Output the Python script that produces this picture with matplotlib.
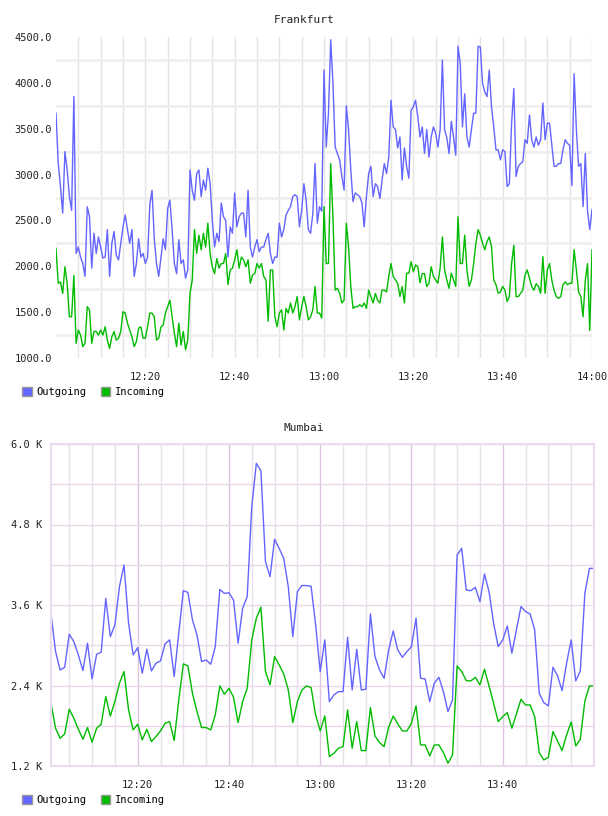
import numpy as np
import matplotlib
matplotlib.use('Agg')
import matplotlib.pyplot as plt
from matplotlib.patches import Patch

plt.rcParams['font.family'] = 'DejaVu Sans Mono'

# Frankfurt: one sample every 30 s, 12:00 -> 14:00
fra_out = [3670, 3120, 2870, 2580, 3250, 3050, 2760, 2610, 3850, 2140,
           2210, 2100, 2030, 1890, 2650, 2540, 1980, 2360, 2140, 2320,
           2210, 2090, 2100, 2400, 1890, 2250, 2380, 2120, 2070, 2250,
           2430, 2560, 2400, 2250, 2400, 1890, 2030, 2300, 2100, 2140,
           2030, 2100, 2670, 2830, 2300, 2030, 1890, 2100, 2300, 2180,
           2630, 2720, 2400, 2030, 1920, 2290, 2030, 2070, 1870, 1960,
           3050,
           2830, 2720, 3010, 3050, 2760, 2940, 2830, 3070, 2900, 2500,
           2210, 2360, 2270, 2690, 2540, 2500, 2100, 2430, 2360, 2800,
           2430, 2540, 2580, 2580, 2320, 2830, 2210, 2100, 2210, 2290,
           2160, 2210, 2210, 2290, 2360, 2140, 2030, 2100, 2100, 2470,
           2320, 2400, 2560, 2610, 2650, 2760, 2780, 2760, 2430, 2610,
           2900, 2720, 2400, 2360, 2580, 3120, 2470, 2650, 2600, 4140,
           3300, 3670, 4470, 4000, 3300, 3230, 3160, 2980, 2830, 3750,
           3490, 3050, 2705, 2800, 2780, 2760, 2690, 2430, 2760, 3010,
           3090, 2760, 2900, 2870, 2740, 2940, 3120, 3010, 3190, 3810,
           3520, 3490, 3290, 3410, 2940, 3290, 3090, 2960, 3700, 3740,
           3810, 3630, 3410, 3520, 3230, 3490, 3190, 3410, 3520, 3450,
           3300, 3490, 4250, 3490, 3400, 3230, 3580, 3410, 3210, 4400,
           4210, 3520, 3880, 3410, 3300, 3490, 3670, 3670, 4400, 4390,
           3995, 3900, 3850, 4140, 3740, 3520, 3270, 3270, 3160, 3270,
           3250, 2870, 2900, 3560, 3940, 2980, 3090, 3120, 3140, 3380,
           3340, 3650, 3380, 3300, 3410, 3320, 3380, 3780, 3380, 3560,
           3560, 3320, 3090, 3090, 3120, 3120, 3270, 3380, 3340, 3320,
           2880, 4100, 3490, 3090, 3120, 2650, 3230, 2600, 2400, 2620]
fra_in = [2196, 1815, 1830, 1705, 1995, 1815, 1450, 1450, 1900, 1160,
          1305, 1250, 1124, 1160, 1560, 1525, 1160, 1290, 1290, 1250,
          1305, 1250, 1340, 1195, 1105, 1230, 1290, 1195, 1215, 1290,
          1505, 1490, 1380, 1305, 1230, 1124, 1180, 1325, 1340, 1215,
          1215, 1340, 1490, 1490, 1450, 1195, 1215, 1340, 1360, 1490,
          1560, 1630, 1450, 1270, 1124, 1380, 1140, 1290, 1090, 1195,
          1700,
          1850, 2400, 2140, 2340, 2180, 2360, 2210, 2470, 2140, 1995,
          1920, 2085, 1980, 2030, 2030, 2140, 1800, 1960, 1980, 2070,
          2180, 1980, 2100, 2070, 1995, 2070, 1815, 1905, 1920, 2030,
          1980, 2030, 1890, 1850, 1400, 1960, 1960, 1450, 1340, 1490,
          1525, 1305, 1540, 1490, 1600, 1490, 1560, 1670, 1415, 1560,
          1670, 1560, 1415, 1450, 1525, 1780, 1490, 1490, 1435, 2650,
          2030, 2030, 3120, 2540, 1740, 1760, 1705, 1600, 1630, 2470,
          2210, 1780, 1540, 1560, 1560, 1580, 1560, 1600, 1540, 1740,
          1670, 1600, 1705, 1630, 1600, 1740, 1740, 1720, 1890, 2030,
          1890, 1850, 1815, 1670, 1780, 1600, 1925, 1925, 2050, 1940,
          2015, 1995, 1820, 1920, 1920, 1780, 1815, 1995, 1890, 1850,
          1815, 1980, 2320, 1960, 1850, 1760, 1925, 1850, 1780, 2540,
          2030, 2030, 2340, 1960, 1780, 1850, 2030, 2250, 2400, 2340,
          2250, 2180, 2270, 2320, 2210, 1850, 1800, 1705, 1720, 1780,
          1740, 1615, 1670, 2030, 2230, 1670, 1670, 1705, 1740, 1905,
          1960, 1870, 1780, 1740, 1810, 1780, 1705, 2105, 1705, 1960,
          2030, 1850, 1740, 1670, 1650, 1670, 1800, 1830, 1800, 1815,
          1815, 2180, 1960, 1720, 1670, 1450, 1850, 2030, 1300, 2180]

# Mumbai: one sample per minute, 12:01 -> 14:00
mum_out = [3467, 2906, 2632, 2672, 3164, 3055, 2856, 2622, 3030, 2498,
           2866, 2896, 3699, 3129, 3303, 3873, 4196, 3328, 2856, 2965,
           2583, 2940, 2617, 2732, 2767, 3020, 3080, 2533, 3179, 3813,
           3788, 3378, 3154, 2757, 2781, 2717, 2980, 3833, 3773, 3783,
           3674, 3030, 3552, 3724, 5066, 5712, 5602, 4246, 4022, 4579,
           4444, 4295, 3873, 3129, 3800, 3890, 3890, 3880, 3300, 2607,
           3080, 2160, 2260, 2309, 2309, 3119, 2334, 2940, 2334, 2344,
           3467, 2831, 2632, 2508, 2930, 3214, 2930, 2821, 2906, 2980,
           3403, 2508, 2498, 2160, 2434, 2523, 2309, 2011, 2185, 4345,
           4445, 3823, 3813, 3863, 3650, 4062, 3798, 3328, 2980, 3080,
           3288, 2881, 3229, 3577, 3502, 3467, 3229, 2284, 2145, 2096,
           2672, 2548, 2324, 2732, 3080, 2468, 2617, 3774, 4146, 4146]
mum_in = [2135, 1763, 1613, 1678, 2046, 1912, 1748, 1599, 1773, 1554,
          1763, 1822, 2235, 1946, 2160, 2434, 2608, 2036, 1738, 1822,
          1589, 1748, 1564, 1638, 1723, 1837, 1862, 1579, 2185, 2722,
          2692, 2284, 2011, 1773, 1773, 1738, 1961, 2394, 2270, 2359,
          2225, 1847, 2160, 2359, 3080, 3403, 3567, 2608, 2409, 2831,
          2707, 2573, 2334, 1847, 2160, 2334, 2394, 2369, 1961, 1723,
          1946, 1340, 1390, 1465, 1489, 2036, 1465, 1862, 1430, 1430,
          2071, 1648, 1549, 1489, 1778, 1946, 1827, 1723, 1723, 1837,
          2096, 1514, 1514, 1350, 1514, 1514, 1400, 1241, 1365, 2692,
          2608, 2473, 2468, 2523, 2409, 2642, 2394, 2135, 1862, 1936,
          1996, 1763, 1976, 2195, 2110, 2110, 1936, 1400, 1290, 1330,
          1713, 1574, 1430, 1663, 1857, 1499, 1599, 2170, 2394, 2394]

fra_yticks = [1000, 1500, 2000, 2500, 3000, 3500, 4000, 4500]
fra_ylabels = ['1000.0', '1500.0', '2000.0', '2500.0', '3000.0', '3500.0', '4000.0', '4500.0']
mum_yticks = [1200, 2400, 3600, 4800, 6000]
mum_ylabels = ['1.2 K', '2.4 K', '3.6 K', '4.8 K', '6.0 K']
time_ticks = [20, 40, 60, 80, 100, 120]          # minutes after 12:00
time_labels = ['12:20', '12:40', '13:00', '13:20', '13:40', '14:00']

OUT = '#6464ff'
INC = '#00bb00'
W, H = 608, 816

fig = plt.figure(figsize=(W / 100, H / 100), dpi=100)

# ---------- Frankfurt ----------
fra_t = np.arange(len(fra_out)) * 0.5
ax1 = fig.add_axes([56 / W, 1 - 358 / H, 536 / W, 321 / H])
ax1.plot(fra_t, fra_out, color=OUT, lw=1.0)
ax1.plot(fra_t, fra_in, color=INC, lw=1.0)
ax1.set_xlim(0, 120)
ax1.set_ylim(1000, 4500)
ax1.set_yticks(fra_yticks)
ax1.set_yticklabels(fra_ylabels)
ax1.set_yticks(np.arange(1250, 4500, 500), minor=True)
ax1.set_xticks(time_ticks)
ax1.set_xticklabels(time_labels)
ax1.set_xticks(np.arange(5, 120, 5), minor=True)
ax1.grid(False)
ax1.grid(True, which='minor', axis='y', color='#efefef', lw=2)
ax1.grid(True, which='both', axis='x', color='#e4e4e4', lw=1)
for s in ax1.spines.values():
    s.set_visible(False)
ax1.tick_params(which='both', length=0, labelsize=7.5, colors='#222222')
ax1.tick_params(axis='y', pad=3)
ax1.tick_params(axis='x', pad=10)
ax1.set_axisbelow(True)
fig.text(0.5, 1 - 20 / H, 'Frankfurt', ha='center', va='center', fontsize=8, color='#222222')

# ---------- Mumbai ----------
mum_t = np.arange(1, len(mum_out) + 1)
ax2 = fig.add_axes([51 / W, 1 - 766 / H, 543 / W, 322 / H])
ax2.plot(mum_t, mum_out, color=OUT, lw=1.0)
ax2.plot(mum_t, mum_in, color=INC, lw=1.0)
ax2.set_xlim(1, 120)
ax2.set_ylim(1200, 6000)
ax2.set_yticks(mum_yticks)
ax2.set_yticklabels(mum_ylabels)
ax2.set_yticks(np.arange(1800, 6000, 1200), minor=True)
ax2.set_xticks(time_ticks[:-1])
ax2.set_xticklabels(time_labels[:-1])
ax2.set_xticks([m for m in range(5, 120, 5) if m % 20], minor=True)
ax2.grid(True, which='both', axis='y', color='#ead8ea', lw=1)
ax2.grid(True, which='major', axis='x', color='#dcc4e0', lw=1)
ax2.grid(True, which='minor', axis='x', color='#e8e0ea', lw=1)
for s in ax2.spines.values():
    s.set_color('#eadcee')
    s.set_linewidth(1.5)
ax2.tick_params(which='both', length=0, labelsize=7.5, colors='#222222')
ax2.tick_params(axis='y', pad=6)
ax2.tick_params(axis='x', pad=10)
ax2.set_axisbelow(True)
fig.text(0.5, 1 - 428 / H, 'Mumbai', ha='center', va='center', fontsize=8, color='#222222')

# legends
for ypix in (392, 800):
    handles = [Patch(facecolor=OUT, edgecolor='#999999'),
               Patch(facecolor=INC, edgecolor='#999999')]
    fig.legend(handles, ['Outgoing', 'Incoming'], loc='center left',
               bbox_to_anchor=(18 / W, 1 - ypix / H), ncol=2, frameon=False,
               fontsize=7.5, handlelength=0.9, handleheight=0.9,
               handletextpad=0.45, columnspacing=1.4, borderaxespad=0)

fig.savefig('out.png', dpi=100)
